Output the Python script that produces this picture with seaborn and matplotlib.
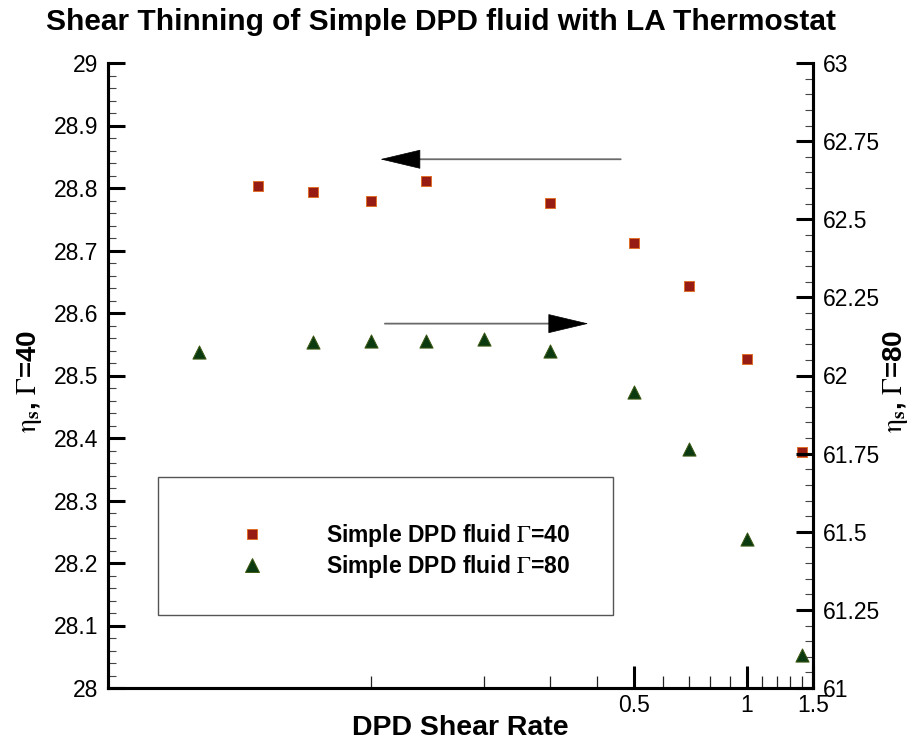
import matplotlib
matplotlib.use('Agg')
import matplotlib.pyplot as plt
import seaborn as sns
import pandas as pd
from matplotlib.lines import Line2D
from matplotlib.patches import Rectangle
from matplotlib.ticker import FixedLocator, FixedFormatter, NullFormatter

# ---------------- data ----------------
shear_40 = [0.05, 0.07, 0.1, 0.14, 0.3, 0.5, 0.7, 1.0, 1.4]
eta_40 = [28.804, 28.793, 28.779, 28.811, 28.776, 28.712, 28.643, 28.527, 28.377]

shear_80 = [0.035, 0.07, 0.1, 0.14, 0.2, 0.3, 0.5, 0.7, 1.0, 1.4]
eta_80 = [62.074, 62.106, 62.112, 62.109, 62.118, 62.080, 61.946, 61.766, 61.478, 61.107]

x_major = [0.5, 1.0, 1.5]
x_major_labels = ['0.5', '1', '1.5']
x_minor = [0.1, 0.2, 0.3, 0.4, 0.6, 0.7, 0.8, 0.9, 1.1, 1.2, 1.3, 1.4]

left_ticks = [28.0, 28.1, 28.2, 28.3, 28.4, 28.5, 28.6, 28.7, 28.8, 28.9, 29.0]
left_labels = ['28', '28.1', '28.2', '28.3', '28.4', '28.5', '28.6', '28.7', '28.8', '28.9', '29']
right_ticks = [61.0, 61.25, 61.5, 61.75, 62.0, 62.25, 62.5, 62.75, 63.0]
right_labels = ['61', '61.25', '61.5', '61.75', '62', '62.25', '62.5', '62.75', '63']

label_40 = r'Simple DPD fluid $\mathrm{\Gamma}$=40'
label_80 = r'Simple DPD fluid $\mathrm{\Gamma}$=80'
title = 'Shear Thinning of Simple DPD fluid with LA Thermostat'
xlabel = 'DPD Shear Rate'
ylabel_left = r'$\mathrm{\eta}_{\mathbf{s}}$, $\mathrm{\Gamma}$=40'
ylabel_right = r'$\mathrm{\eta}_{\mathbf{s}}$, $\mathrm{\Gamma}$=80'

# annotation arrows: (tail x, head-base x, tip x, y on left axis)
arrow_left = (0.462, 0.1335, 0.106, 28.846)
arrow_right = (0.109, 0.299, 0.379, 28.583)

# ---------------- style ----------------
sns.set_style('white')
plt.rcParams['font.family'] = ['Liberation Sans', 'DejaVu Sans']
plt.rcParams['mathtext.fontset'] = 'stix'
for key in ('text.color', 'axes.labelcolor', 'xtick.color', 'ytick.color',
            'axes.edgecolor'):
    plt.rcParams[key] = 'black'

df40 = pd.DataFrame({'shear': shear_40, 'eta': eta_40})
df80 = pd.DataFrame({'shear': shear_80, 'eta': eta_80})

sq_face, sq_edge = '#961c14', '#e0702a'
tr_face, tr_edge = '#0c3a10', '#3d5a14'

fig = plt.figure(figsize=(9.17, 7.44), dpi=100)
ax = fig.add_axes([108 / 917, 1 - 688 / 744, 705 / 917, 625 / 744])
ax2 = ax.twinx()

sns.scatterplot(data=df40, x='shear', y='eta', marker='s', s=55, color=sq_face,
                edgecolor=sq_edge, linewidth=0.7, ax=ax, zorder=5, legend=False)
sns.scatterplot(data=df80, x='shear', y='eta', marker='^', s=90, color=tr_face,
                edgecolor=tr_edge, linewidth=0.7, ax=ax2, zorder=5, legend=False)

ax.set_xscale('log')
ax.set_xlim(0.02, 1.5)
ax.set_ylim(28, 29)
ax2.set_ylim(61, 63)

ax.xaxis.set_major_locator(FixedLocator(x_major))
ax.xaxis.set_major_formatter(FixedFormatter(x_major_labels))
ax.xaxis.set_minor_locator(FixedLocator(x_minor))
ax.xaxis.set_minor_formatter(NullFormatter())

ax.yaxis.set_major_locator(FixedLocator(left_ticks))
ax.yaxis.set_major_formatter(FixedFormatter(left_labels))
ax.yaxis.set_minor_locator(FixedLocator([28 + 0.02 * i for i in range(51)]))
ax2.yaxis.set_major_locator(FixedLocator(right_ticks))
ax2.yaxis.set_major_formatter(FixedFormatter(right_labels))
ax2.yaxis.set_minor_locator(FixedLocator([61 + 0.05 * i for i in range(41)]))

for a in (ax, ax2):
    a.spines['top'].set_visible(False)
    for side in ('left', 'right', 'bottom'):
        a.spines[side].set_linewidth(2.2)
        a.spines[side].set_color('black')

ax.tick_params(axis='y', which='major', direction='in', length=12, width=2.2,
               labelsize=16.5, pad=7, left=True, right=False, colors='black')
ax.tick_params(axis='y', which='minor', direction='in', length=6, width=0.8,
               color='#444444', left=True, right=False)
ax2.tick_params(axis='y', which='major', direction='in', length=12, width=2.2,
                labelsize=16.5, pad=7, left=False, right=True, colors='black')
ax2.tick_params(axis='y', which='minor', direction='in', length=6, width=0.8,
                color='#444444', left=False, right=True)
ax.tick_params(axis='x', which='major', direction='in', length=16, width=2.2,
               labelsize=16.5, pad=4, bottom=True, top=False, colors='black')
ax.tick_params(axis='x', which='minor', direction='in', length=9, width=0.9,
               color='#222222', bottom=True, top=False)
ax2.tick_params(axis='x', which='both', bottom=False, top=False)

ax.set_xlabel(xlabel, fontsize=20.5, fontweight='bold', labelpad=-1)
ax.set_ylabel(ylabel_left, fontsize=20, fontweight='bold')
ax2.set_ylabel(ylabel_right, fontsize=20, fontweight='bold')
ax.yaxis.label.set_va('center')
ax2.yaxis.label.set_va('center')
ax.yaxis.set_label_coords((30 - 108) / 705, 0.49)
ax2.yaxis.set_label_coords((895 - 108) / 705, 0.49)
ax2.yaxis.label.set_rotation(90)

fig.text(441 / 917, 1 - 22 / 744, title, ha='center', va='center',
         fontsize=21.5, fontweight='bold')

# arrows
for tail, base, tip, yv in (arrow_left, arrow_right):
    ax.annotate('', xy=(base, yv), xytext=(tail, yv),
                arrowprops=dict(arrowstyle='-', color='#6a6a6a', lw=1.3,
                                shrinkA=0, shrinkB=0))
    ax.annotate('', xy=(tip, yv), xytext=(base, yv),
                arrowprops=dict(arrowstyle='-|>,head_length=2.74,head_width=0.65',
                                fc='black', ec='black', lw=0.5,
                                shrinkA=0, shrinkB=0))

# legend box + legend
box = Rectangle(((158 - 108) / 705, (688 - 615) / 625), (613 - 158) / 705,
                (615 - 477) / 625, transform=ax.transAxes, fill=False,
                ec='#555555', lw=1.0, zorder=6)
ax.add_patch(box)
handles = [
    Line2D([], [], ls='none', marker='s', markersize=7.4, mfc=sq_face, mec=sq_edge, mew=0.7),
    Line2D([], [], ls='none', marker='^', markersize=9.5, mfc=tr_face, mec=tr_edge, mew=0.7),
]
leg = ax.legend(handles, [label_40, label_80], loc='center left',
                bbox_to_anchor=((241 - 108) / 705, (688 - 551) / 625),
                frameon=False, handlelength=1.0, handletextpad=2.7,
                labelspacing=0.15, borderpad=0, borderaxespad=0,
                prop={'size': 16.5, 'weight': 'bold'})
leg.set_zorder(7)
for t in leg.get_texts():
    t.set_color('black')

fig.savefig('out.png', dpi=100)
